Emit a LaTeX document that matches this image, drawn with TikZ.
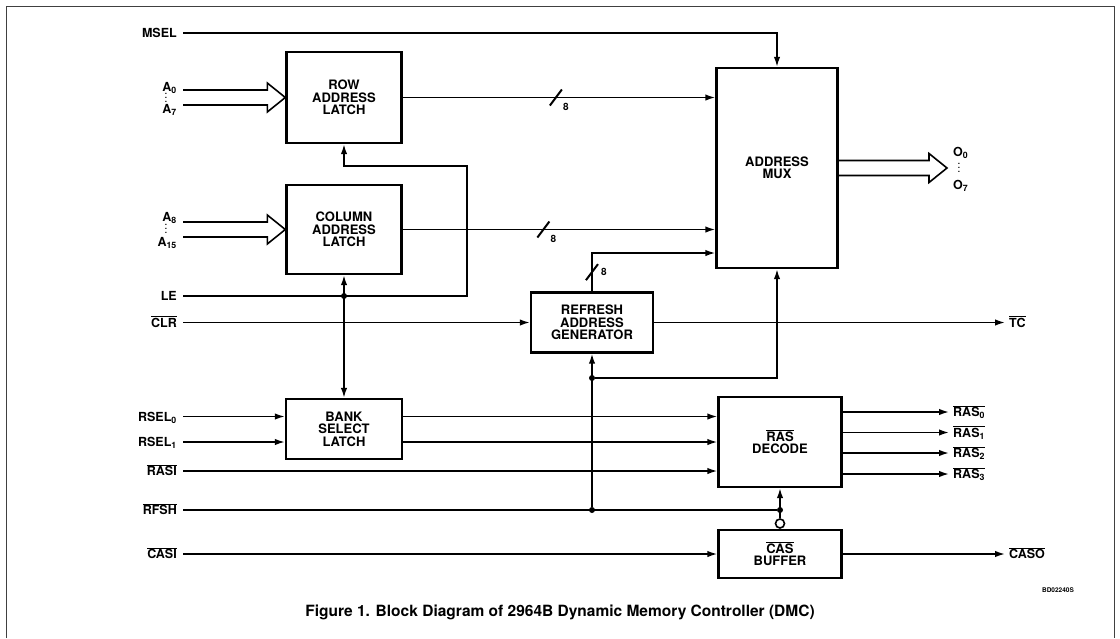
\documentclass[tikz,border=0pt]{standalone}
\usepackage{fontspec}
\setmainfont{TeX Gyre Heros}
\usetikzlibrary{arrows.meta,positioning,calc}
\newcommand{\ovl}[1]{$\overline{\mbox{#1}}$}
% hollow bus arrow: open tail at #1, tip at #2 (same height)
\newcommand{\busarrow}[2]{%
  \draw[bus] ($(#1)+(0,-7.5)$) -- ($(#2)+(-18,-7.5)$) -- ++(0,-7) -- (#2)
    -- ($(#2)+(-18,14.5)$) -- ++(0,-7) -- ($(#1)+(0,7.5)$);}
% bus width mark: slash at #1, label offset #2
\newcommand{\buswidth}[2]{%
  \draw[slash] ($(#1)+(-6,8)$) -- ($(#1)+(6,-8)$);
  \node[lbl, font=\bfseries\fontsize{10}{10}\selectfont, text height=7.2pt] at ($(#1)+#2$) {8};}

\begin{document}
\begin{tikzpicture}[
    x=1pt, y=-1pt,
    font=\bfseries\fontsize{13}{12.5}\selectfont,
    box/.style={draw, rectangle, line width=2.4pt, align=center, inner sep=0pt},
    lbl/.style={font=\bfseries\fontsize{12.5}{12.5}\selectfont, inner sep=0pt, text height=9pt, text depth=0pt},
    wire/.style={line width=1.6pt},
    arrow/.style={-{Latex[length=10pt,width=6.5pt]}, line width=1.6pt},
    dblarrow/.style={{Latex[length=10pt,width=6.5pt]}-{Latex[length=10pt,width=6.5pt]}, line width=1.6pt},
    bus/.style={line width=1.6pt, line join=miter},
    slash/.style={line width=2pt},
    dot/.style={circle, fill, inner sep=0pt, minimum size=6pt}
]
    \useasboundingbox (0,0) rectangle (1120,638);
    % Frame
    \draw[line width=0.8pt, black!75] (6,638) -- (6,6) -- (1114,6) -- (1114,638);

    % Blocks
    \node[box, minimum width=115pt, minimum height=91pt] (row_latch) at (344,97.5) {ROW\\ADDRESS\\LATCH};
    \node[box, minimum width=115pt, minimum height=89pt] (col_latch) at (344,229.5) {COLUMN\\ADDRESS\\LATCH};
    \node[box, minimum width=121pt, minimum height=200pt] (mux) at (777,168) {ADDRESS\\MUX};
    \node[box, minimum width=122pt, minimum height=60pt] (refresh) at (592,322.5) {REFRESH\\ADDRESS\\GENERATOR};
    \node[box, minimum width=116pt, minimum height=60pt] (bank_latch) at (344,429) {BANK\\SELECT\\LATCH};
    \node[box, minimum width=123pt, minimum height=90pt] (ras) at (780,442) {\ovl{RAS}\\DECODE};
    \node[box, minimum width=123pt, minimum height=48pt] (cas) at (780,554) {\ovl{CAS}\\BUFFER};

    % Inputs
    \node[lbl, anchor=east] (msel) at (177,33) {MSEL};
    \node[lbl, anchor=east] (a0) at (177,87) {A\textsubscript{0}};
    \node[lbl] (a_dots) at (166,98) {\fontsize{8}{8}\selectfont$\vdots$};
    \node[lbl, anchor=east] (a7) at (177,109) {A\textsubscript{7}};
    \node[lbl, anchor=east] (a8) at (177,217) {A\textsubscript{8}};
    \node[lbl] (a_dots2) at (166,229) {\fontsize{8}{8}\selectfont$\vdots$};
    \node[lbl, anchor=east] (a15) at (177,242) {A\textsubscript{15}};
    \node[lbl, anchor=east] (le) at (177,296) {LE};
    \node[lbl, anchor=east] (clr) at (177,322.5) {\ovl{CLR}};
    \node[lbl, anchor=east] (rsel0) at (177,416.5) {RSEL\textsubscript{0}};
    \node[lbl, anchor=east] (rsel1) at (177,442) {RSEL\textsubscript{1}};
    \node[lbl, anchor=east] (rasi) at (177,471) {\ovl{RASI}};
    \node[lbl, anchor=east] (rfsh) at (177,510) {\ovl{RFSH}};
    \node[lbl, anchor=east] (casi) at (177,554) {\ovl{CASI}};

    % Outputs
    \node[lbl, anchor=west] (o0) at (953,152) {O\textsubscript{0}};
    \node[lbl] (o_dots) at (959,168) {\fontsize{8}{8}\selectfont$\vdots$};
    \node[lbl, anchor=west] (o7) at (953,185) {O\textsubscript{7}};
    \node[lbl, anchor=west] (tc) at (1009,322.5) {\ovl{TC}};
    \foreach \i/\y in {0/412,1/432.5,2/453,3/474}
        \node[lbl, anchor=west] (ras_out\i) at (953,\y) {\ovl{RAS\textsubscript{\i}}};
    \node[lbl, anchor=west] (caso) at (1009,554) {\ovl{CASO}};

    % Address buses
    \coordinate (a_in) at (183,97.5);
    \coordinate (c_in) at (183,229.5);
    \coordinate (o_tip) at (947,168);
    \busarrow{a_in}{row_latch.west}
    \busarrow{c_in}{col_latch.west}
    \busarrow{mux.east}{o_tip}

    \draw[arrow] ([xshift=6pt]msel.east) -| (mux.north);
    \draw[arrow] (row_latch.east) -- coordinate[pos=0.49] (row_bus) (row_latch.east -| mux.west);
    \draw[arrow] (col_latch.east) -- coordinate[pos=0.45] (col_bus) (col_latch.east -| mux.west);
    \coordinate (rf_turn) at (592,253);
    \draw[arrow] (refresh.north) -- coordinate[pos=0.5] (rf_bus) (rf_turn) -- (rf_turn -| mux.west);
    \buswidth{row_bus}{(10,9)}
    \buswidth{col_bus}{(10,9)}
    \buswidth{rf_bus}{(12,0)}

    % Latch enable
    \coordinate (le_turn) at (467,166);
    \draw[arrow] ([xshift=6pt]le.east) -| (le_turn) -| (row_latch.south);
    \node[dot] (le_dot) at (col_latch.south |- le.east) {};
    \draw[dblarrow] (col_latch.south) -- (bank_latch.north);

    % Refresh control
    \draw[arrow] ([xshift=6pt]clr.east) -- (clr.east -| refresh.west);
    \draw[arrow] (refresh.east) -- ([xshift=-4pt]tc.west);
    \node[dot] (rfsh_dot) at (refresh.south |- rfsh.east) {};
    \node[dot] (ras_dot) at (ras.south |- rfsh.east) {};
    \node[dot] (rf_dot) at (592,378) {};
    \draw[wire] ([xshift=6pt]rfsh.east) -- (ras_dot);
    \draw[arrow] (rfsh_dot) -- (refresh.south);
    \draw[arrow] (rf_dot) -| (mux.south);

    % Bank select and RAS
    \draw[arrow] ([xshift=6pt]rsel0.east) -- (rsel0.east -| bank_latch.west);
    \draw[arrow] ([xshift=6pt]rsel1.east) -- (rsel1.east -| bank_latch.west);
    \draw[arrow] (bank_latch.east |- rsel0.east) -- (rsel0.east -| ras.west);
    \draw[arrow] (bank_latch.east |- rsel1.east) -- (rsel1.east -| ras.west);
    \draw[arrow] ([xshift=6pt]rasi.east) -- (rasi.east -| ras.west);
    \foreach \i in {0,...,3}
        \draw[arrow] (ras.east |- ras_out\i.west) -- ([xshift=-4pt]ras_out\i.west);

    % CAS
    \node[circle, draw, line width=1.6pt, minimum size=9pt, inner sep=0pt, anchor=south] (cas_inv) at (cas.north) {};
    \draw[arrow] (cas_inv.north) -- (ras.south);
    \draw[arrow] ([xshift=6pt]casi.east) -- (cas.west);
    \draw[arrow] (cas.east) -- ([xshift=-4pt]caso.west);

    % Caption
    \node[font=\bfseries\fontsize{6.5}{6.5}\selectfont] (code) at (1058,590) {BD02240S};
    \node[font=\bfseries\fontsize{15.5}{15.5}\selectfont] (caption) at (560,612) {Figure 1. Block Diagram of 2964B Dynamic Memory Controller (DMC)};
\end{tikzpicture}
\end{document}
